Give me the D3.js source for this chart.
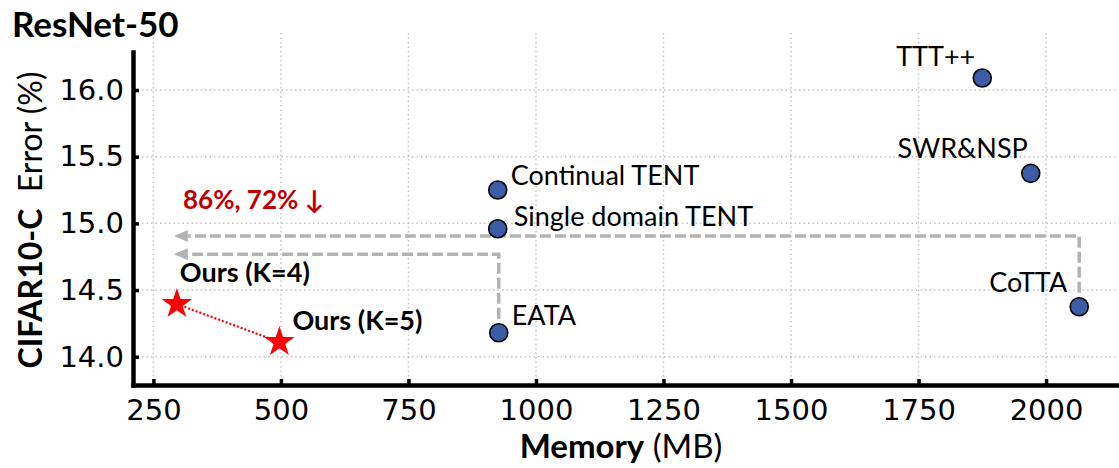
<!DOCTYPE html>
<html>
<head>
<meta charset="utf-8">
<script src="https://cdn.jsdelivr.net/npm/d3@7"></script>
<style>
  html, body { margin: 0; padding: 0; background: #fff; }
  svg { display: block; }
  .tick text { font-family: "DejaVu Sans", sans-serif; font-size: 29px; fill: #000; }
  .lbl { font-family: Lato, "Open Sans", sans-serif; fill: #000; }
</style>
</head>
<body>
<div id="chart"></div>
<script>
// methods and their (memory MB, CIFAR10-C error %)
var methods = ["TTT++", "SWR&NSP", "Continual TENT", "Single domain TENT", "EATA", "CoTTA"];
var memory  = [1875, 1970, 925, 925, 927, 2065];
var error   = [16.09, 15.375, 15.25, 14.96, 14.18, 14.375];

var ours      = ["Ours (K=4)", "Ours (K=5)"];
var oursMem   = [296, 497];
var oursError = [14.395, 14.11];

var xTicks = [250, 500, 750, 1000, 1250, 1500, 1750, 2000];
var yTicks = [14.0, 14.5, 15.0, 15.5, 16.0];

// gray "saving" arrows: start method, error level, end memory
var arrowFrom  = ["CoTTA", "EATA"];
var arrowLevel = [14.905, 14.768];
var arrowTo    = [290, 290];

// label placement (anchor, dx, dy in px from the marker)
var labelPos = {
  "TTT++": ["end", -7, -12],
  "SWR&NSP": ["end", -3, -15],
  "Continual TENT": ["start", 13, -5],
  "Single domain TENT": ["start", 16, -3],
  "EATA": ["start", 13, -8],
  "CoTTA": ["end", -12, -15],
  "Ours (K=4)": ["start", 3, -22],
  "Ours (K=5)": ["start", 13, -12]
};

var W = 1119, H = 468;
var svg = d3.select("#chart").append("svg").attr("width", W).attr("height", H);

var x = d3.scaleLinear().domain([210, 2143]).range([133, 1119]);
var y = d3.scaleLinear().domain([13.788, 16.285]).range([385, 52]);

// grid
var grid = svg.append("g").attr("stroke", "#c4c4c4").attr("stroke-width", 1.5)
  .attr("stroke-dasharray", "1.5,3");
grid.selectAll(".vg").data(xTicks).join("line")
  .attr("x1", d => x(d)).attr("x2", d => x(d)).attr("y1", 33).attr("y2", 385);
grid.selectAll(".hg").data(yTicks).join("line")
  .attr("y1", d => y(d)).attr("y2", d => y(d)).attr("x1", 133).attr("x2", W);

// axes
var xAxis = svg.append("g").attr("transform", "translate(0,385)")
  .call(d3.axisBottom(x).tickValues(xTicks).tickFormat(d3.format("d"))
    .tickSizeInner(-6).tickSizeOuter(0).tickPadding(14));
var yAxis = svg.append("g").attr("transform", "translate(133,0)")
  .call(d3.axisLeft(y).tickValues(yTicks).tickFormat(d3.format(".1f"))
    .tickSizeInner(-6).tickSizeOuter(0).tickPadding(9));
[xAxis, yAxis].forEach(function(a) {
  a.select(".domain").attr("stroke", "#000").attr("stroke-width", 4.5).attr("stroke-linecap", "square");
  a.selectAll(".tick line").attr("stroke", "#000").attr("stroke-width", 3.5);
});

// arrows
var arrowCol = "#b3b3b3";
arrowFrom.forEach(function(m, i) {
  var k = methods.indexOf(m);
  var px = x(memory[k]), py = y(error[k]);
  var ly = y(arrowLevel[i]);
  var tip = x(arrowTo[i]);
  svg.append("path")
    .attr("d", "M" + px + "," + (py - 14) + " L" + px + "," + ly + " L" + (tip + 14) + "," + ly)
    .attr("fill", "none").attr("stroke", arrowCol).attr("stroke-width", 3.5)
    .attr("stroke-dasharray", "11,4");
  svg.append("path")
    .attr("d", "M" + (tip + 14) + "," + (ly - 6) + " L" + tip + "," + ly + " L" + (tip + 14) + "," + (ly + 6) + " Z")
    .attr("fill", arrowCol);
});

// ours: dotted link + stars
svg.append("path")
  .attr("d", d3.line().x(d => x(d[0])).y(d => y(d[1]))(d3.zip(oursMem, oursError)))
  .attr("fill", "none").attr("stroke", "#ff0000").attr("stroke-width", 2.2)
  .attr("stroke-dasharray", "2,2");
svg.selectAll(".star").data(d3.zip(oursMem, oursError)).join("path")
  .attr("transform", d => "translate(" + x(d[0]) + "," + y(d[1]) + ")")
  .attr("d", d3.symbol().type(d3.symbolStar).size(290))
  .attr("fill", "#ff0000");

// baselines
svg.selectAll(".pt").data(d3.zip(memory, error)).join("circle")
  .attr("cx", d => x(d[0])).attr("cy", d => y(d[1])).attr("r", 9)
  .attr("fill", "#3c5ca8").attr("stroke", "#000").attr("stroke-width", 1.6);

// point labels
function putLabel(name, mx, my, bold) {
  var p = labelPos[name];
  svg.append("text").attr("class", "lbl")
    .attr("x", x(mx) + p[1]).attr("y", y(my) + p[2])
    .attr("text-anchor", p[0])
    .attr("font-size", bold ? 27 : 27)
    .attr("font-weight", bold ? 700 : 400)
    .text(name);
}
methods.forEach((m, i) => putLabel(m, memory[i], error[i], false));
ours.forEach((m, i) => putLabel(m, oursMem[i], oursError[i], true));

svg.append("text").attr("class", "lbl").attr("x", 183).attr("y", 209)
  .attr("font-size", 26).attr("font-weight", 700)
  .style("fill", "#c00000").text("86%, 72% \u2193");

// title and axis titles
svg.append("text").attr("class", "lbl").attr("x", 12).attr("y", 37)
  .attr("font-size", 35).attr("font-weight", 700).text("ResNet-50");

var xt = svg.append("text").attr("class", "lbl").attr("x", 621).attr("y", 458)
  .attr("text-anchor", "middle").attr("font-size", 33);
xt.append("tspan").attr("font-weight", 700).text("Memory");
xt.append("tspan").attr("font-weight", 400).text(" (MB)");

var yt = svg.append("text").attr("class", "lbl")
  .attr("transform", "translate(42,220) rotate(-90)")
  .attr("text-anchor", "middle").attr("font-size", 32);
yt.append("tspan").attr("font-weight", 700).text("CIFAR10-C");
yt.append("tspan").attr("font-weight", 400).text("\u00a0 Error (%)");
</script>
</body>
</html>
